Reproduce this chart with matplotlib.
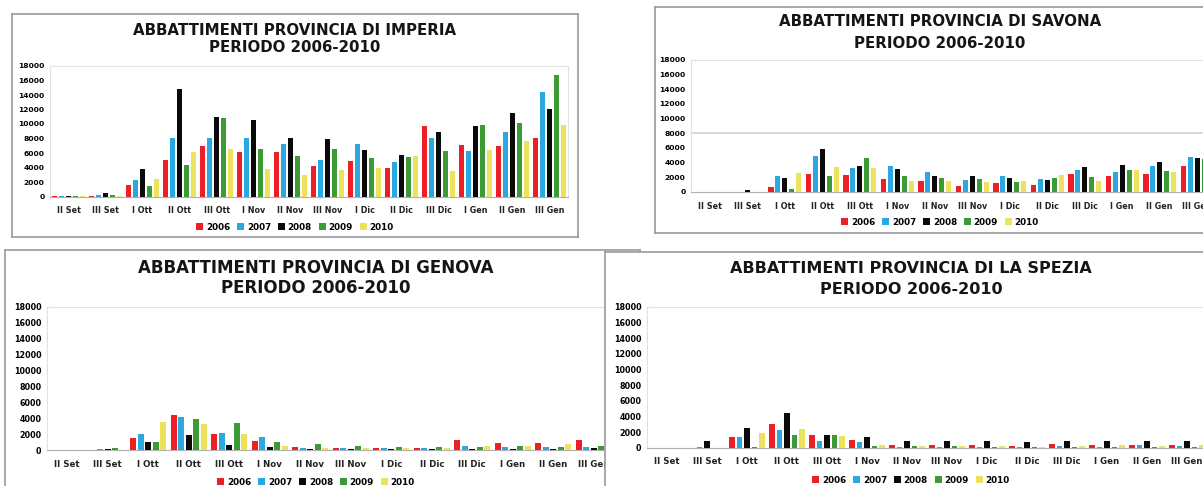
"""Four grouped bar charts: culls per province, 2006-2010 seasons."""

from __future__ import annotations

import numpy as np
from matplotlib import pyplot as plt

W, H = 1203, 486

categories = ["II Set", "III Set", "I Ott", "II Ott", "III Ott", "I Nov", "II Nov",
              "III Nov", "I Dic", "II Dic", "III Dic", "I Gen", "II Gen", "III Gen"]
years = ["2006", "2007", "2008", "2009", "2010"]
colors = ["#ec1f27", "#2aa8df", "#0a0a0a", "#3d9b35", "#ece25c"]
y_ticks = list(range(0, 18001, 2000))

imperia_2006 = [20, 50, 1600, 5100, 6900, 6200, 6200, 4150, 4900, 4000, 9750, 7050, 7000, 8100]
imperia_2007 = [40, 200, 2300, 8100, 8000, 8100, 7300, 5100, 7200, 4750, 8100, 6300, 8900, 14350]
imperia_2008 = [60, 500, 3800, 14800, 11000, 10500, 8100, 7900, 6450, 5700, 8900, 9700, 11550, 12050]
imperia_2009 = [30, 200, 1500, 4300, 10850, 6600, 5600, 6600, 5350, 5450, 6250, 9900, 10200, 16750]
imperia_2010 = [10, 50, 2400, 6200, 6600, 3800, 3000, 3600, 4000, 5600, 3500, 6400, 7650, 9850]

savona_2006 = [10, 50, 700, 2450, 2300, 1800, 1450, 800, 1200, 1000, 2450, 2200, 2450, 3500]
savona_2007 = [20, 60, 2200, 4900, 3300, 3500, 2700, 1650, 2200, 1750, 3050, 2750, 3500, 4800]
savona_2008 = [30, 250, 1900, 5850, 3500, 3200, 2200, 2200, 1900, 1650, 3400, 3700, 4150, 4700]
savona_2009 = [10, 60, 450, 2200, 4600, 2200, 1850, 1750, 1300, 1850, 2100, 3050, 2900, 4500]
savona_2010 = [10, 30, 2600, 3400, 3250, 1450, 1450, 1300, 1450, 2300, 1450, 3050, 2750, 3500]

genova_2006 = [10, 50, 1450, 4400, 1950, 1150, 400, 300, 300, 250, 1200, 900, 900, 1200]
genova_2007 = [10, 150, 1950, 4200, 2100, 1650, 300, 200, 250, 200, 500, 400, 400, 400]
genova_2008 = [10, 100, 1050, 1900, 650, 350, 150, 100, 100, 100, 150, 150, 150, 200]
genova_2009 = [10, 200, 1050, 3900, 3350, 950, 800, 500, 400, 400, 400, 500, 400, 500]
genova_2010 = [10, 50, 3550, 3250, 1950, 500, 300, 200, 250, 300, 500, 500, 700, 600]

spezia_2006 = [10, 20, 1350, 3050, 1600, 950, 400, 300, 300, 250, 500, 300, 350, 300]
spezia_2007 = [10, 150, 1350, 2250, 850, 700, 100, 100, 150, 150, 200, 100, 300, 200]
spezia_2008 = [10, 850, 2500, 4400, 1600, 1400, 800, 800, 800, 700, 850, 900, 850, 850]
spezia_2009 = [10, 20, 150, 1600, 1600, 250, 200, 200, 100, 100, 100, 100, 100, 100]
spezia_2010 = [10, 20, 1850, 2350, 1550, 350, 200, 200, 200, 150, 200, 300, 200, 300]


def px_box(x0, y0, x1, y1):
    """Pixel rectangle (y down) -> figure fraction [left, bottom, width, height]."""
    return [x0 / W, 1 - y1 / H, (x1 - x0) / W, (y1 - y0) / H]


def draw_panel(fig, name, series, frame, plot, title_x, title_ys, title_size,
               legend_y, label_size=5.8, tick_size=5.4, guide=None):
    back = fig.add_axes(px_box(*frame))
    back.set_xticks([])
    back.set_yticks([])
    back.set_facecolor("white")
    for spine in back.spines.values():
        spine.set_color("#9a9a9a")
        spine.set_linewidth(1.2)

    fig.text(title_x / W, 1 - title_ys[0] / H, f"ABBATTIMENTI PROVINCIA DI {name}",
             ha="center", va="center", fontsize=title_size, fontweight="bold", color="#151515")
    fig.text(title_x / W, 1 - title_ys[1] / H, "PERIODO 2006-2010",
             ha="center", va="center", fontsize=title_size, fontweight="bold", color="#151515")

    axis = fig.add_axes(px_box(*plot))
    x_values = np.arange(len(categories))
    for index, (values, color, year) in enumerate(zip(series, colors, years)):
        axis.bar(x_values + (index - 2) * 0.185, values, width=0.14, color=color,
                 label=year, zorder=3)
    if guide is not None:
        axis.axhline(guide, color="#d4d4d4", linewidth=1.3, zorder=1)

    axis.set_xlim(-0.5, len(categories) - 0.5)
    axis.set_ylim(0, 18000)
    axis.set_yticks(y_ticks)
    axis.set_yticklabels([str(t) for t in y_ticks], fontsize=tick_size, fontweight="bold")
    axis.set_xticks(x_values)
    axis.set_xticklabels(categories, fontsize=label_size, fontweight="bold", color="#222222")
    axis.tick_params(axis="x", length=0, pad=7)
    axis.tick_params(axis="y", length=0, pad=4)
    for side in ("top", "right", "left"):
        axis.spines[side].set_color("#e2e2e2")
    axis.spines["bottom"].set_color("#b0b0b0")

    handles, labels = axis.get_legend_handles_labels()
    fig.legend(handles, labels, loc="center", ncol=5, frameon=False,
               bbox_to_anchor=(title_x / W, 1 - legend_y / H),
               prop={"size": 6.3, "weight": "bold"}, handlelength=0.8, handleheight=0.8,
               handletextpad=0.3, columnspacing=0.8, borderaxespad=0)
    return axis


def main():
    fig = plt.figure(figsize=(W / 100, H / 100), dpi=100)

    draw_panel(fig, "IMPERIA",
               [imperia_2006, imperia_2007, imperia_2008, imperia_2009, imperia_2010],
               frame=(12, 14, 578, 237), plot=(50, 66, 568, 196.5),
               title_x=295, title_ys=(30, 47), title_size=10.8, legend_y=227)
    draw_panel(fig, "SAVONA",
               [savona_2006, savona_2007, savona_2008, savona_2009, savona_2010],
               frame=(655, 7, 1260, 233), plot=(691, 60, 1216, 192),
               title_x=940, title_ys=(22, 43), title_size=10.8, legend_y=222, guide=8000)
    draw_panel(fig, "GENOVA",
               [genova_2006, genova_2007, genova_2008, genova_2009, genova_2010],
               frame=(5, 250, 640, 520), plot=(47, 306.7, 614, 450),
               title_x=316, title_ys=(268, 288), title_size=12, legend_y=482,
               label_size=6.2, tick_size=5.8)
    draw_panel(fig, "LA SPEZIA",
               [spezia_2006, spezia_2007, spezia_2008, spezia_2009, spezia_2010],
               frame=(605, 252, 1260, 520), plot=(647, 307, 1207, 447.7),
               title_x=911, title_ys=(268, 290), title_size=11.5, legend_y=480,
               label_size=6.2, tick_size=5.8)

    fig.savefig("out.png", dpi=100)


if __name__ == "__main__":
    main()
